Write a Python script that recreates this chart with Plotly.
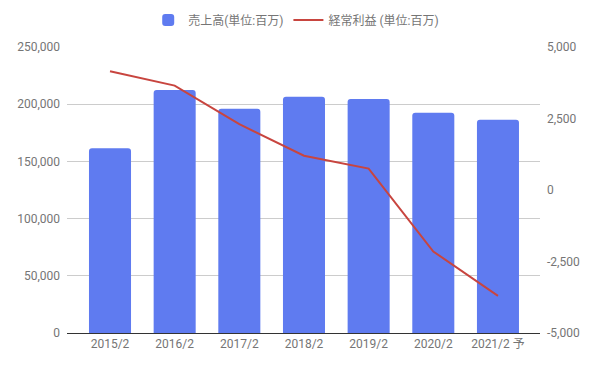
import plotly.graph_objects as go

categories = ["2015/2", "2016/2", "2017/2", "2018/2", "2019/2", "2020/2", "2021/2 予"]
sales = [161500, 212500, 196000, 206500, 204500, 192500, 186500]
profit = [4150, 3650, 2300, 1200, 750, -2150, -3700]

left_ticks = [0, 50000, 100000, 150000, 200000, 250000]
right_ticks = [-5000, -2500, 0, 2500, 5000]
right_tick_text = ["-5,000", "-2,500", "0", "2,500", "5,000"]

font_color = "#757575"

fig = go.Figure()
fig.add_trace(go.Bar(
    x=categories, y=sales, name="売上高(単位:百万)",
    marker=dict(color="#5f7bf0", cornerradius=3, line=dict(width=0)),
    width=0.65, yaxis="y",
))
fig.add_trace(go.Scatter(
    x=categories, y=profit, name="経常利益 (単位:百万)",
    mode="lines", line=dict(color="#c8453f", width=2), yaxis="y2",
))

fig.update_layout(
    width=596, height=369,
    margin=dict(l=67, r=56, t=47, b=36, autoexpand=False),
    paper_bgcolor="white", plot_bgcolor="white",
    font=dict(family="Roboto, Noto Sans CJK JP, sans-serif", size=12, color=font_color),
    showlegend=True,
    legend=dict(orientation="h", x=0.497, xanchor="center", xref="container",
                y=1 - 20 / 369, yanchor="middle", yref="container",
                font=dict(size=12, color=font_color), itemwidth=30,
                traceorder="normal"),
    xaxis=dict(type="category", range=[-0.665, 6.65], showgrid=False,
               showline=True, linecolor="#333333", linewidth=1,
               ticks="", tickfont=dict(size=12, color=font_color)),
    yaxis=dict(range=[0, 250000], tickvals=left_ticks, tickformat=",",
               showgrid=True, gridcolor="#cccccc", gridwidth=1,
               zeroline=False, showline=False, ticks="",
               ticklabelstandoff=6,
               tickfont=dict(size=12, color=font_color)),
    yaxis2=dict(range=[-5000, 5000], overlaying="y", side="right",
                tickvals=right_ticks, ticktext=right_tick_text,
                showgrid=False, zeroline=False, showline=False, ticks="",
                ticklabelstandoff=6,
                tickfont=dict(size=12, color=font_color)),
)

fig.write_html("out.html",
               config={"displayModeBar": False},
               post_script="document.body.style.margin='0';document.body.style.overflow='hidden';")
